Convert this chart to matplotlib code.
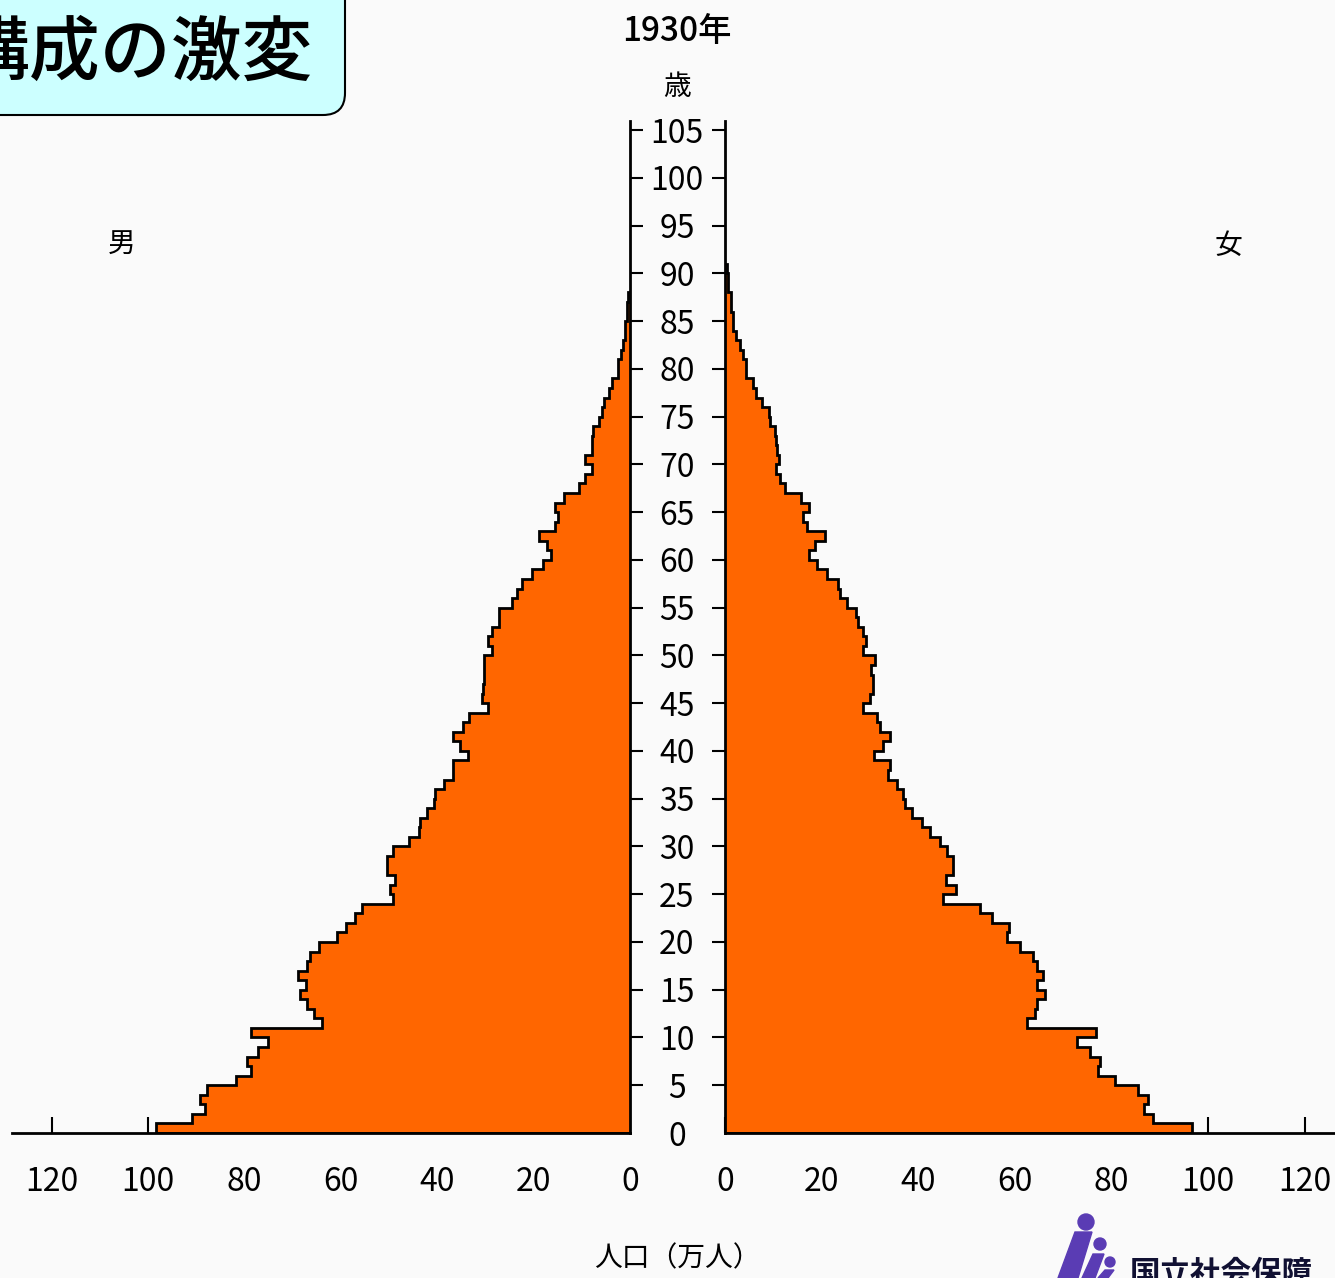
import numpy as np
import matplotlib
matplotlib.use('Agg')
import matplotlib.pyplot as plt
from matplotlib.patches import FancyBboxPatch, Circle, Polygon

# 1930年 人口ピラミッド（単位：万人）, 年齢0歳から1歳刻み
male = [98.5, 91.0, 88.2, 89.3, 87.8, 81.9, 78.7, 79.6, 77.2, 75.1,
        78.7, 64.0, 65.7, 67.0, 68.5, 67.3, 68.9, 67.1, 66.5, 64.5,
        60.8, 59.0, 57.1, 55.7, 49.3, 49.8, 48.8, 50.4, 50.4, 49.1,
        45.9, 43.9, 43.6, 42.2, 40.7, 40.5, 38.6, 36.7, 36.7, 33.6,
        35.2, 36.7, 34.6, 33.4, 29.4, 30.8, 30.6, 30.4, 30.4, 30.4,
        28.7, 29.4, 28.7, 27.3, 27.3, 24.6, 23.5, 22.5, 20.4, 18.0,
        16.3, 17.3, 18.8, 15.6, 14.9, 15.6, 13.8, 10.5, 9.3, 7.95,
        9.3, 7.95, 7.95, 7.6, 6.4, 5.9, 5.5, 4.3, 3.8, 2.4,
        2.4, 1.9, 1.4, 1.0, 1.0, 0.7, 0.7, 0.4]
female = [96.6, 88.6, 86.7, 87.5, 85.5, 80.6, 77.2, 77.6, 75.5, 72.8,
          76.8, 62.4, 64.1, 64.5, 66.2, 64.5, 65.7, 64.5, 63.8, 61.0,
          58.4, 58.8, 55.2, 52.8, 45.2, 47.8, 45.7, 47.2, 47.2, 45.9,
          44.5, 42.5, 40.7, 38.6, 37.2, 36.8, 35.5, 33.8, 34.1, 30.8,
          32.6, 34.1, 32.1, 31.5, 28.5, 30.0, 30.7, 30.7, 30.3, 31.0,
          28.5, 29.2, 28.5, 27.6, 27.2, 25.2, 23.8, 23.4, 21.0, 19.0,
          17.4, 18.6, 20.7, 17.0, 16.1, 17.4, 15.8, 12.4, 11.4, 10.6,
          11.2, 10.7, 10.6, 10.3, 9.3, 9.0, 7.6, 6.4, 5.7, 4.3,
          4.3, 3.8, 3.1, 2.3, 1.6, 1.6, 1.2, 1.2, 0.7, 0.7,
          0.5]
age_ticks = list(range(0, 106, 5))
pop_ticks = [0, 20, 40, 60, 80, 100, 120]

title = '構成の激変'
year = '1930年'
unit_age = '歳'
xlabel = '人口（万人）'

orange = '#ff6600'
bg = '#fafafa'
W, H = 1335, 1278
narrow = ['Liberation Sans Narrow', 'Noto Sans CJK JP', 'DejaVu Sans']
cjk = ['Noto Sans CJK JP', 'DejaVu Sans']
plt.rcParams['font.family'] = cjk

fig = plt.figure(figsize=(W / 100, H / 100), dpi=100, facecolor=bg)


def box(x0, x1, ytop, ybot):
    return [x0 / W, 1 - ybot / H, (x1 - x0) / W, (ybot - ytop) / H]


axL = fig.add_axes(box(12, 630, 120.5, 1133))
axR = fig.add_axes(box(725, 1335, 120.5, 1133))


def draw(ax, vals):
    vals = np.array(vals)
    edges = np.arange(len(vals) + 1)
    ax.stairs(vals, edges, orientation='horizontal', baseline=0,
              fill=True, color=orange, zorder=3)
    ax.stairs(vals, edges, orientation='horizontal', baseline=0,
              color='black', lw=2, zorder=4)


draw(axL, male)
draw(axR, female)

axL.set_xlim(128.3, 0)
axR.set_xlim(0, 126.2)
for ax in (axL, axR):
    ax.set_ylim(0, 106)
    ax.set_facecolor(bg)
    ax.spines['top'].set_visible(False)
    for s in ax.spines.values():
        s.set_linewidth(2)
        s.set_zorder(5)
    ax.set_xticks(pop_ticks)
    ax.set_xticklabels([str(v) for v in pop_ticks], family=narrow, fontsize=23)
    ax.tick_params(axis='x', direction='in', length=11.5, width=1.5, pad=24)

axL.spines['left'].set_visible(False)
axR.spines['right'].set_visible(False)

axL.yaxis.tick_right()
axL.set_yticks(age_ticks)
axL.set_yticklabels([str(a) for a in age_ticks], family=narrow, fontsize=23,
                    ha='center')
axL.tick_params(axis='y', direction='out', length=9.4, width=1.5, pad=24.4)
axL.yaxis.get_major_ticks()[0].tick2line.set_visible(False)

axR.set_yticks(age_ticks)
axR.set_yticklabels([])
axR.tick_params(axis='y', direction='out', length=9.4, width=1.5)
axR.yaxis.get_major_ticks()[0].tick1line.set_visible(False)


def ftext(x, y, s, **kw):
    fig.text(x / W, 1 - y / H, s, **kw)


ftext(677, 32, year, ha='center', va='center', fontsize=24, family=narrow,
      fontweight='medium')
ftext(677, 87, unit_age, ha='center', va='center', fontsize=20)
ftext(122, 244, '男', ha='center', va='center', fontsize=20)
ftext(1228, 246, '女', ha='center', va='center', fontsize=20)
ftext(677, 1258, xlabel, ha='center', va='center', fontsize=20)

# 見出しの箱（左上、一部が画面外）
hb = FancyBboxPatch((-30, H - 115), 375, 160,
                    boxstyle='round,pad=0,rounding_size=22',
                    transform=None, facecolor='#ccffff', edgecolor='black',
                    lw=1.5, zorder=1)
fig.add_artist(hb)
ftext(312, 55, title, ha='right', va='center', fontsize=51,
      fontweight='medium', zorder=2)

# ロゴ（右下、一部が画面外）
purple = '#5a3cb4'
for cx, cy, r in [(1086, 1222, 8), (1100, 1244, 6), (1110, 1262, 5)]:
    fig.add_artist(Circle((cx, H - cy), r, transform=None, color=purple))
for pts in [[(1058, 1278), (1075, 1232), (1092, 1232), (1078, 1278)],
            [(1082, 1278), (1093, 1254), (1104, 1254), (1095, 1278)],
            [(1098, 1278), (1105, 1270), (1114, 1270), (1108, 1278)]]:
    fig.add_artist(Polygon([(x, H - y) for x, y in pts], closed=True,
                           transform=None, color=purple))
ftext(1130, 1258, '国立社会保障', ha='left', va='top', fontsize=22,
      fontweight='bold', color='#111133')

fig.savefig('out.png', dpi=100, facecolor=bg)
